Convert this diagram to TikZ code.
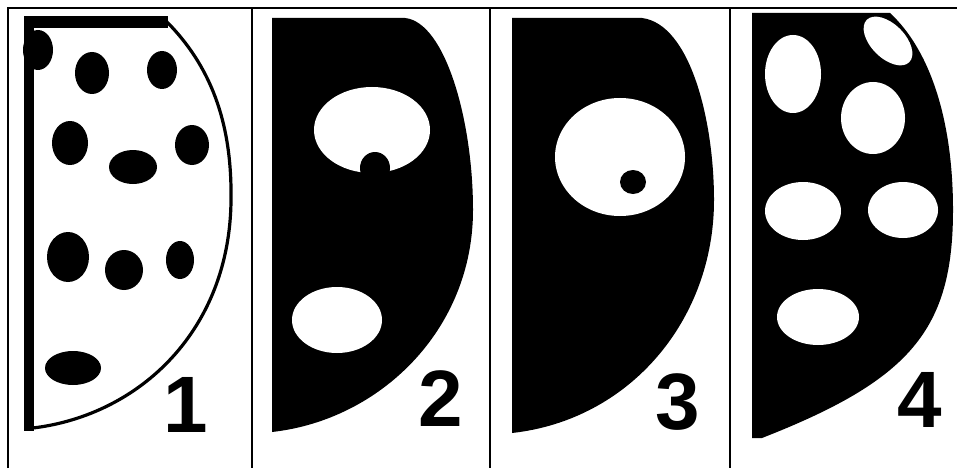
\documentclass[tikz,border=0pt]{standalone}
\usepackage{fontspec}
\setmainfont{Liberation Sans}

\tikzset{
  frameline/.style={line width=1.6pt},
  spot/.style={fill=black},
  hole/.style={fill=white},
  digit/.style={inner sep=0pt, font=\bfseries\fontsize{80}{80}\selectfont}
}

\begin{document}
\begin{tikzpicture}[x=1pt,y=-1pt]
                \useasboundingbox (0,0) rectangle (957,468);
                % frame
                \draw[frameline] (8,468) -- (8,8) -- (957,8);
                \foreach \xd in {252,490,730}
                    \draw[frameline] (\xd,8) -- (\xd,468);
                % panel 1
                \fill (24,16) rectangle (34,431);
                \fill (24,16) rectangle (168,28);
                \draw[line width=3.2pt] (166,21) .. controls (215,70) and (232,130) .. (231,200)
                    .. controls (230,330) and (140,415) .. (33,428);
                \foreach \cx/\cy/\rx/\ry in {38/50/15/20, 92/73/17/21, 162/70/15/19, 70/143/18/22,
                    133/167/24/17, 192/145/17/20, 68/257/21/25, 124/270/19/20, 180/260/14/19, 73/368/28/17}
                    \fill[spot] (\cx,\cy) ellipse [x radius=\rx, y radius=\ry];
                \node[digit] (lab1) at (186,405) {1};
                % panel 2
                \fill (272,18) -- (405,18) .. controls (445,22) and (473,120) .. (473,210)
                    .. controls (473,330) and (380,420) .. (272,432) -- cycle;
                \fill[hole] (372,130) ellipse [x radius=58, y radius=43];
                \fill[spot] (375,168) ellipse [x radius=15, y radius=16];
                \fill[hole] (337,320) ellipse [x radius=45, y radius=33];
                \node[digit] (lab2) at (441,399) {2};
                % panel 3
                \fill (512,18) -- (642,18) .. controls (690,24) and (714,120) .. (714,200)
                    .. controls (714,320) and (630,420) .. (512,433) -- cycle;
                \fill[hole] (620,157) ellipse [x radius=65, y radius=59];
                \fill[spot] (633,182) ellipse [x radius=13, y radius=12];
                \node[digit] (lab3) at (678,402) {3};
                % panel 4
                \fill (752,13) -- (890,13) .. controls (930,50) and (953,120) .. (953,210)
                    .. controls (953,330) and (910,380) .. (762,438) -- (752,438) -- cycle;
                \foreach \cx/\cy/\rx/\ry in {793/74/28/39, 873/118/32/36, 803/211/38/29,
                    903/210/35/28, 818/317/41/28}
                    \fill[hole] (\cx,\cy) ellipse [x radius=\rx, y radius=\ry];
                \fill[hole, rotate around={-45:(888,41)}] (888,41) ellipse [x radius=30, y radius=17];
                \node[digit] (lab4) at (920,400) {4};
            \end{tikzpicture}
\end{document}
